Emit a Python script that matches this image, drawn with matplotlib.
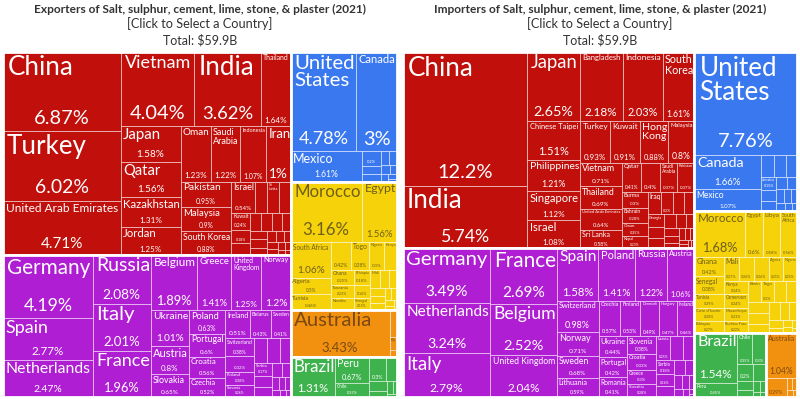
import matplotlib
matplotlib.use("Agg")
import matplotlib.pyplot as plt
from matplotlib.patches import Rectangle
from matplotlib.textpath import TextPath
from matplotlib.font_manager import FontProperties

# ---------------- DATA (share of world trade, %) ----------------
exp_title = "Exporters of Salt, sulphur, cement, lime, stone, & plaster (2021)"
imp_title = "Importers of Salt, sulphur, cement, lime, stone, & plaster (2021)"
subtitle = "[Click to Select a Country]"
total_label = "Total: $59.9B"

# Exports
exp_asia_names = ["China", "Turkey", "United Arab Emirates", "Vietnam", "India", "Thailand", "Japan",
                  "Qatar", "Kazakhstan", "Jordan", "Oman", "Saudi Arabia", "Indonesia", "Iran",
                  "Pakistan", "Malaysia", "South Korea", "Israel", "Bahrain", "Sri Lanka",
                  "Philippines", "Kuwait", "Singapore", "Chinese Taipei", "Kyrgyzstan", "Lebanon",
                  "Bangladesh", "Georgia", "Iraq", "Cambodia", "Uzbekistan", "Armenia", "Azerbaijan",
                  "Syria", "Hong Kong", "Laos", "Mongolia", "Tajikistan", "Burma", "Nepal"]
exp_asia_vals = [6.87, 6.02, 4.71, 4.04, 3.62, 1.64, 1.58, 1.56, 1.31, 1.25, 1.23, 1.22, 1.07, 1.00,
                 0.95, 0.90, 0.88, 0.54, 0.28, 0.27, 0.26, 0.24, 0.18, 0.16, 0.15, 0.14, 0.13, 0.12,
                 0.11, 0.10, 0.09, 0.08, 0.07, 0.06, 0.05, 0.05, 0.04, 0.03, 0.03, 0.02]
exp_europe_names = ["Germany", "Spain", "Netherlands", "Russia", "Italy", "France", "Belgium", "Greece",
                    "United Kingdom", "Norway", "Ukraine", "Austria", "Slovakia", "Poland", "Portugal",
                    "Croatia", "Czechia", "Ireland", "Belarus", "Sweden", "Switzerland",
                    "Bosnia and Herzegovina", "Finland", "Slovenia", "Romania", "Bulgaria", "Hungary",
                    "Serbia", "Denmark", "Lithuania", "Latvia", "Estonia", "North Macedonia", "Albania",
                    "Luxembourg", "Montenegro", "Moldova", "Iceland"]
exp_europe_vals = [4.19, 2.77, 2.47, 2.08, 2.01, 1.96, 1.89, 1.41, 1.25, 1.20, 1.01, 0.80, 0.65, 0.63,
                   0.60, 0.56, 0.52, 0.51, 0.43, 0.41, 0.38, 0.32, 0.28, 0.26, 0.24, 0.22, 0.20, 0.17,
                   0.15, 0.13, 0.11, 0.09, 0.07, 0.06, 0.05, 0.04, 0.03, 0.02]
exp_namerica_names = ["United States", "Canada", "Mexico", "Dominican Republic", "Guatemala", "Cuba",
                      "Jamaica", "Trinidad and Tobago", "Honduras", "Costa Rica", "El Salvador", "Panama",
                      "Bahamas"]
exp_namerica_vals = [4.78, 3.00, 1.61, 0.20, 0.12, 0.10, 0.09, 0.08, 0.06, 0.05, 0.04, 0.03, 0.02]
exp_africa_names = ["Morocco", "Egypt", "South Africa", "Algeria", "Tunisia", "Mauritania", "Togo",
                    "Nigeria", "Kenya", "Ghana", "Tanzania", "Namibia", "Ethiopia", "Cote d'Ivoire",
                    "Senegal", "Mali", "Zimbabwe", "Uganda", "Mozambique", "Cameroon", "Madagascar",
                    "Zambia", "Benin", "Botswana", "Libya", "Angola"]
exp_africa_vals = [3.16, 1.56, 1.06, 0.50, 0.46, 0.42, 0.38, 0.30, 0.28, 0.25, 0.22, 0.20, 0.18, 0.16,
                   0.15, 0.13, 0.12, 0.10, 0.09, 0.08, 0.07, 0.06, 0.05, 0.04, 0.03, 0.02]
exp_oceania_names = ["Australia", "New Zealand", "Fiji", "New Caledonia"]
exp_oceania_vals = [3.43, 0.15, 0.07, 0.04]
exp_samerica_names = ["Brazil", "Peru", "Chile", "Colombia", "Argentina", "Ecuador", "Uruguay",
                      "Bolivia", "Paraguay", "Venezuela"]
exp_samerica_vals = [1.31, 0.67, 0.35, 0.30, 0.20, 0.12, 0.08, 0.06, 0.04, 0.02]

# Imports
imp_asia_names = ["China", "India", "Japan", "Bangladesh", "Indonesia", "South Korea", "Chinese Taipei",
                  "Philippines", "Singapore", "Israel", "Turkey", "Kuwait", "Hong Kong", "Malaysia",
                  "Vietnam", "Thailand", "United Arab Emirates", "Sri Lanka", "Qatar", "Cambodia",
                  "Saudi Arabia", "Pakistan", "Burma", "Bahrain", "Oman", "Nepal", "Iraq", "Jordan",
                  "Lebanon", "Kazakhstan", "Georgia", "Maldives", "Uzbekistan", "Azerbaijan",
                  "Kyrgyzstan", "Mongolia", "Laos", "Armenia", "Macau", "Brunei", "Tajikistan", "Iran",
                  "Yemen", "Syria", "Afghanistan", "Bhutan"]
imp_asia_vals = [12.2, 5.74, 2.65, 2.18, 2.03, 1.61, 1.51, 1.21, 1.12, 1.08, 0.93, 0.91, 0.88, 0.80,
                 0.71, 0.69, 0.64, 0.58, 0.41, 0.40, 0.37, 0.37, 0.30, 0.28, 0.25, 0.23, 0.22, 0.20,
                 0.18, 0.17, 0.15, 0.14, 0.13, 0.12, 0.10, 0.09, 0.08, 0.07, 0.06, 0.05, 0.04, 0.04,
                 0.03, 0.03, 0.02, 0.02]
imp_europe_names = ["Germany", "Netherlands", "Italy", "France", "Belgium", "United Kingdom", "Spain",
                    "Poland", "Russia", "Austria", "Switzerland", "Norway", "Sweden", "Lithuania",
                    "Czechia", "Finland", "Denmark", "Hungary", "Ireland", "Ukraine", "Portugal",
                    "Romania", "Slovenia", "Croatia", "Greece", "Slovakia", "Latvia", "Estonia",
                    "Bulgaria", "Serbia", "Luxembourg", "Belarus", "Iceland", "Bosnia and Herzegovina",
                    "Albania", "Malta", "Moldova", "North Macedonia", "Montenegro", "Andorra",
                    "Faroe Islands"]
imp_europe_vals = [3.49, 3.24, 2.79, 2.69, 2.52, 2.04, 1.58, 1.41, 1.22, 1.06, 0.98, 0.71, 0.68, 0.59,
                   0.57, 0.53, 0.49, 0.47, 0.46, 0.44, 0.42, 0.41, 0.38, 0.33, 0.30, 0.28, 0.25, 0.23,
                   0.20, 0.18, 0.16, 0.14, 0.12, 0.10, 0.08, 0.07, 0.06, 0.05, 0.04, 0.02, 0.01]
imp_namerica_names = ["United States", "Canada", "Mexico", "Dominican Republic", "Panama", "Guatemala",
                      "Jamaica", "Costa Rica", "Honduras", "Puerto Rico", "Trinidad and Tobago",
                      "El Salvador", "Bahamas", "Haiti", "Nicaragua", "Barbados", "Belize"]
imp_namerica_vals = [7.76, 1.66, 1.07, 0.22, 0.19, 0.17, 0.15, 0.13, 0.12, 0.10, 0.09, 0.08, 0.07,
                     0.06, 0.05, 0.04, 0.03]
imp_africa_names = ["Morocco", "Egypt", "Libya", "South Africa", "Ghana", "Senegal", "Tunisia",
                    "Cote d'Ivoire", "Ethiopia", "Mali", "Tanzania", "Uganda", "Algeria", "Nigeria",
                    "Kenya", "Cameroon", "Mozambique", "Burkina Faso", "Benin", "Togo", "Madagascar",
                    "Zambia", "Rwanda", "Guinea", "Mauritius", "Niger", "DR Congo", "Angola", "Namibia",
                    "Botswana", "Liberia", "Gabon", "Sierra Leone", "Chad"]
imp_africa_vals = [1.68, 0.60, 0.58, 0.56, 0.42, 0.38, 0.29, 0.28, 0.27, 0.27, 0.26, 0.26, 0.25, 0.25,
                   0.24, 0.24, 0.23, 0.22, 0.21, 0.20, 0.19, 0.18, 0.17, 0.16, 0.15, 0.14, 0.12, 0.10,
                   0.08, 0.06, 0.05, 0.04, 0.03, 0.02]
imp_samerica_names = ["Brazil", "Peru", "Chile", "Colombia", "Argentina", "Ecuador", "Uruguay",
                      "Paraguay", "Bolivia", "Venezuela", "Guyana", "Suriname"]
imp_samerica_vals = [1.54, 0.45, 0.35, 0.30, 0.20, 0.15, 0.10, 0.08, 0.06, 0.04, 0.03, 0.02]
imp_oceania_names = ["Australia", "New Zealand", "Fiji", "Papua New Guinea", "New Caledonia",
                     "French Polynesia"]
imp_oceania_vals = [1.04, 0.29, 0.05, 0.04, 0.03, 0.02]

# ---------------- STYLE ----------------
continent_colors = {
    "Asia": ("#C10F0B", "white"),
    "Europe": ("#B01ED3", "white"),
    "North America": ("#3A78F0", "white"),
    "Africa": ("#F6D20A", "#6E5E1A"),
    "Oceania": ("#F2900F", "#7A4A12"),
    "South America": ("#3EB24C", "white"),
}
FAMILY = "Lato"
FP = FontProperties(family=FAMILY)
PHI = (1 + 5 ** 0.5) / 2
W_PX, H_PX = 394.0, 345.0

_em_cache = {}


def em(s):
    if s not in _em_cache:
        _em_cache[s] = max(TextPath((0, 0), s, size=1, prop=FP).get_extents().width, 0.3)
    return _em_cache[s]


def squarify(values, x0, y0, x1, y1, ratio=PHI):
    """d3-hierarchy squarified treemap (values sorted descending)."""
    n = len(values)
    rects = [None] * n
    i0 = i1 = 0
    value = float(sum(values))
    while i0 < n:
        dx, dy = x1 - x0, y1 - y0
        sumv = values[i1]
        i1 += 1
        minv = maxv = sumv
        alpha = max(dy / dx, dx / dy) / (value * ratio)
        beta = sumv * sumv * alpha
        minr = max(maxv / beta, beta / minv)
        while i1 < n:
            nv = values[i1]
            sumv += nv
            minv = min(minv, nv)
            maxv = max(maxv, nv)
            beta = sumv * sumv * alpha
            newr = max(maxv / beta, beta / minv)
            if newr > minr:
                sumv -= nv
                break
            minr = newr
            i1 += 1
        if dx < dy:
            ny = y0 + dy * sumv / value if i1 < n else y1
            xx = x0
            for i in range(i0, i1):
                w = (x1 - x0) * values[i] / sumv
                rects[i] = (xx, y0, xx + w, ny)
                xx += w
            y0 = ny
        else:
            nx = x0 + dx * sumv / value if i1 < n else x1
            yy = y0
            for i in range(i0, i1):
                h = (y1 - y0) * values[i] / sumv
                rects[i] = (x0, yy, nx, yy + h)
                yy += h
            x0 = nx
        value -= sumv
        i0 = i1
    return rects


def fmt(v):
    return f"{v:.3g}%"


def px2pt(px):
    return px * 72.0 / 100.0


def label_cell(ax, r, name, val, tcolor):
    x0, y0, x1, y1 = r
    w, h = x1 - x0, y1 - y0
    pad = max(1.5, min(5.0, 0.045 * min(w, h) + 1.0))
    aw = w - 2 * pad
    if aw <= 3 or h <= 5:
        return
    pct = fmt(val)
    pfs = min(20.0, 0.85 * aw / em(pct), h * 0.28)
    avail_h = h - 1.2 * pfs - 2.2 * pad
    words = name.split()
    single = min(26.0, aw / em(name), avail_h / 1.2)
    nfs, lines = single, [name]
    for k in range(1, len(words)):
        cand = [" ".join(words[:k]), " ".join(words[k:])]
        fs = min(26.0, aw / max(em(l) for l in cand), avail_h / 2.4)
        if fs > 1.25 * single and fs > nfs:
            nfs, lines = fs, cand
    if nfs >= 3.6:
        ax.text(x0 + pad, y0 + pad * 0.7, "\n".join(lines), ha="left", va="top",
                fontsize=px2pt(nfs), color=tcolor, family=FAMILY, linespacing=1.0)
    if pfs >= 3.4:
        ax.text((x0 + x1) / 2, y1 - pad, pct, ha="center", va="bottom",
                fontsize=px2pt(pfs), color=tcolor, family=FAMILY)


def draw_treemap(ax, groups):
    groups = sorted(groups, key=lambda g: -sum(g[2]))
    totals = [sum(g[2]) for g in groups]
    crects = squarify(totals, 0, 0, W_PX, H_PX)
    for (cont, names, vals), cr in zip(groups, crects):
        fc, tc = continent_colors[cont]
        order = sorted(range(len(vals)), key=lambda i: -vals[i])
        svals = [vals[i] for i in order]
        snames = [names[i] for i in order]
        rects = squarify(svals, *cr)
        for nm, v, r in zip(snames, svals, rects):
            ax.add_patch(Rectangle((r[0], r[1]), r[2] - r[0], r[3] - r[1], facecolor=fc,
                                   edgecolor=(1, 1, 1, 0.55), linewidth=0.6))
            label_cell(ax, r, nm, v, tc)
        ax.add_patch(Rectangle((cr[0], cr[1]), cr[2] - cr[0], cr[3] - cr[1], fill=False,
                               edgecolor="white", linewidth=2.0))
    ax.set_xlim(0, W_PX)
    ax.set_ylim(H_PX, 0)
    ax.axis("off")


fig = plt.figure(figsize=(8.0, 3.99), dpi=100)
fig.patch.set_facecolor("white")

ax1 = fig.add_axes([3 / 800, 2 / 399, W_PX / 800, H_PX / 399])
ax2 = fig.add_axes([403 / 800, 2 / 399, W_PX / 800, H_PX / 399])

draw_treemap(ax1, [
    ("Asia", exp_asia_names, exp_asia_vals),
    ("Europe", exp_europe_names, exp_europe_vals),
    ("North America", exp_namerica_names, exp_namerica_vals),
    ("Africa", exp_africa_names, exp_africa_vals),
    ("Oceania", exp_oceania_names, exp_oceania_vals),
    ("South America", exp_samerica_names, exp_samerica_vals),
])
draw_treemap(ax2, [
    ("Asia", imp_asia_names, imp_asia_vals),
    ("Europe", imp_europe_names, imp_europe_vals),
    ("North America", imp_namerica_names, imp_namerica_vals),
    ("Africa", imp_africa_names, imp_africa_vals),
    ("Oceania", imp_oceania_names, imp_oceania_vals),
    ("South America", imp_samerica_names, imp_samerica_vals),
])

for cx, title in [(200, exp_title), (600, imp_title)]:
    fig.text(cx / 800, 1 - 9 / 399, title, ha="center", va="center", fontsize=8.6,
             weight="bold", color="#333333", family=FAMILY)
    fig.text(cx / 800, 1 - 24 / 399, subtitle, ha="center", va="center", fontsize=9.2,
             color="#333333", family=FAMILY)
    fig.text(cx / 800, 1 - 40 / 399, total_label, ha="center", va="center", fontsize=9.0,
             color="#333333", family=FAMILY)

fig.savefig("out.png", dpi=100, facecolor="white")
